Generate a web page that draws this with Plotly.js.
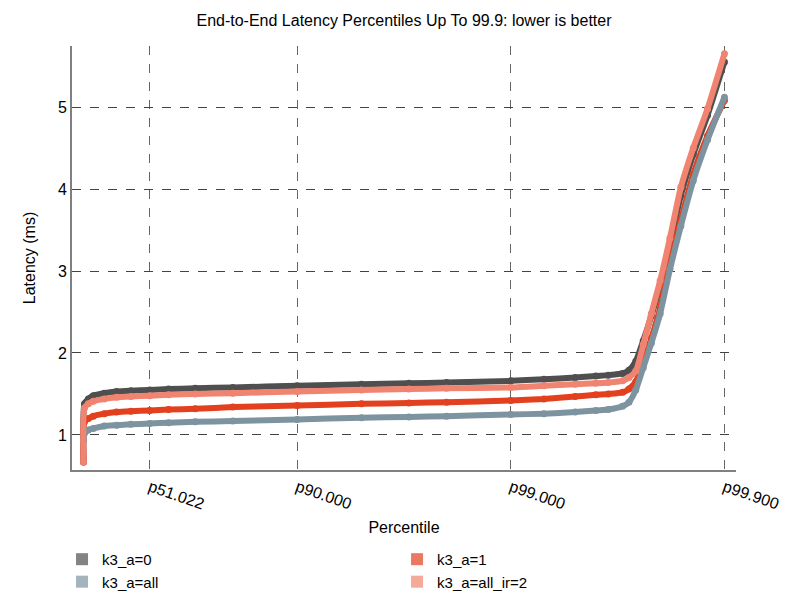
<!DOCTYPE html>
<html>
<head>
<meta charset="utf-8">
<script src="https://cdn.plot.ly/plotly-3.0.1.min.js"></script>
<style>html,body{margin:0;padding:0;background:#fff;}#chart{width:800px;height:600px;}</style>
</head>
<body>
<div id="chart"></div>
<script>
// Percentiles at which latencies were read
const percentiles = [0, 1, 5, 10, 20, 30, 40, 51.022, 60, 70, 80, 90, 95, 97, 98, 99,
  99.3, 99.5, 99.6, 99.65, 99.7, 99.72, 99.74, 99.76, 99.78, 99.8, 99.82, 99.84, 99.86, 99.88, 99.9];

// Latency (ms) per series
const lat_a0 = [0.67, 1.38, 1.44, 1.48, 1.51, 1.53, 1.54, 1.55, 1.56, 1.57, 1.58, 1.60, 1.62, 1.63, 1.64, 1.66,
  1.68, 1.70, 1.72, 1.73, 1.75, 1.79, 1.90, 2.15, 2.45, 2.82, 3.32, 3.92, 4.42, 4.90, 5.55];
const lat_a1 = [0.67, 1.16, 1.20, 1.23, 1.26, 1.28, 1.29, 1.30, 1.31, 1.32, 1.34, 1.36, 1.38, 1.39, 1.40, 1.42,
  1.44, 1.47, 1.49, 1.50, 1.52, 1.56, 1.65, 1.88, 2.18, 2.55, 3.10, 3.62, 4.18, 4.65, 5.08];
const lat_all = [0.93, 1.02, 1.06, 1.08, 1.11, 1.12, 1.13, 1.14, 1.15, 1.16, 1.17, 1.19, 1.21, 1.22, 1.23, 1.25,
  1.26, 1.28, 1.30, 1.31, 1.35, 1.40, 1.55, 1.82, 2.12, 2.48, 3.02, 3.55, 4.10, 4.60, 5.12];
const lat_ir2 = [0.67, 1.33, 1.38, 1.41, 1.44, 1.46, 1.47, 1.48, 1.49, 1.50, 1.51, 1.53, 1.55, 1.56, 1.57, 1.58,
  1.60, 1.62, 1.63, 1.64, 1.66, 1.70, 1.78, 2.10, 2.48, 2.88, 3.40, 4.02, 4.50, 4.98, 5.65];

const seriesNames = ["k3_a=0", "k3_a=1", "k3_a=all", "k3_a=all_ir=2"];
const seriesColors = ["#4f4f4f", "#e2401e", "#7d94a0", "#f08470"];
const seriesData = [lat_a0, lat_a1, lat_all, lat_ir2];

const tickPercentiles = [51.022, 90, 99, 99.9];
const tickLabels = ["p51.022", "p90.000", "p99.000", "p99.900"];
const yTicks = [1, 2, 3, 4, 5];

// Percentile axis: number of nines, -log10(1 - p/100)
const nines = p => -Math.log10(1 - p / 100);
const xs = percentiles.map(nines);

const font = "Liberation Sans, Arial, Helvetica, sans-serif";
const traces = [];
seriesData.forEach((ys, i) => {
  traces.push({
    x: xs, y: ys, type: "scatter", mode: "lines+markers",
    name: seriesNames[i], showlegend: false, hoverinfo: "skip",
    line: {color: seriesColors[i], width: 6, shape: "spline", smoothing: 0.6},
    marker: {color: seriesColors[i], size: 7}
  });
});
seriesData.forEach((ys, i) => {
  traces.push({
    x: [null], y: [null], type: "scatter", mode: "markers",
    name: seriesNames[i], showlegend: true,
    marker: {color: seriesColors[i], symbol: "square", size: 12, opacity: 0.7}
  });
});

const layout = {
  width: 800, height: 600,
  margin: {l: 72, r: 64, t: 46, b: 130, autoexpand: false},
  paper_bgcolor: "#ffffff", plot_bgcolor: "#ffffff",
  font: {family: font, size: 16, color: "#000"},
  title: {text: "End-to-End Latency Percentiles Up To 99.9: lower is better",
          font: {family: font, size: 16, color: "#000"},
          xref: "paper", x: 0.5, yref: "container", y: 0.966, yanchor: "middle"},
  xaxis: {
    range: [-0.054, 3.054],
    tickmode: "array", tickvals: tickPercentiles.map(nines), ticktext: tickLabels,
    tickangle: 19, ticks: "",
    showline: true, linecolor: "#808080", linewidth: 2,
    showgrid: true, gridcolor: "#666", griddash: "dash", gridwidth: 1,
    zeroline: false,
    tickfont: {family: font, size: 16, color: "#000"},
    title: {text: "Percentile", font: {family: font, size: 16, color: "#000"}, standoff: 10}
  },
  yaxis: {
    range: [0.573, 5.744],
    tickmode: "array", tickvals: yTicks, ticks: "",
    showline: true, linecolor: "#808080", linewidth: 2,
    showgrid: true, gridcolor: "#444", griddash: "dash", gridwidth: 1,
    zeroline: false,
    tickfont: {family: font, size: 16, color: "#000"},
    title: {text: "Latency (ms)", font: {family: font, size: 16, color: "#000"}, standoff: 18}
  },
  legend: {
    orientation: "h", x: -0.015, xanchor: "left", y: -0.172, yanchor: "top",
    entrywidth: 290, entrywidthmode: "pixels",
    font: {family: font, size: 15, color: "#000"},
    tracegroupgap: 0, itemwidth: 30
  },
  showlegend: true
};

Plotly.newPlot("chart", traces, layout, {displayModeBar: false, staticPlot: true});
</script>
</body>
</html>
